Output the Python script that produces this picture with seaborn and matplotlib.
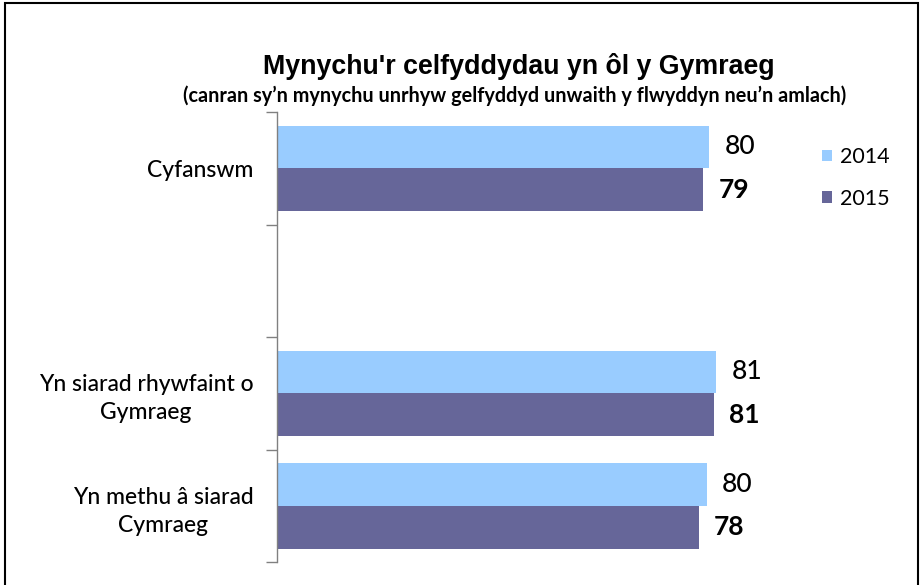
import matplotlib
matplotlib.use("Agg")
import matplotlib.pyplot as plt
from matplotlib.patches import Rectangle
import seaborn as sns
import pandas as pd

categories = ["Cyfanswm", " ", "Yn siarad rhywfaint o\nGymraeg", "Yn methu â siarad\nCymraeg"]
years = ["2014", "2015"]
values_2014 = [80.0, None, 81.3, 79.6]
values_2015 = [78.9, None, 80.9, 78.1]
colors = ["#99CCFF", "#666699"]

rows = []
for cat, v14, v15 in zip(categories, values_2014, values_2015):
    if v14 is not None:
        rows.append({"cat": cat, "year": "2014", "val": v14})
    if v15 is not None:
        rows.append({"cat": cat, "year": "2015", "val": v15})
df = pd.DataFrame(rows)

sns.set_style("white")
plt.rcParams["font.family"] = ["Lato", "DejaVu Sans"]
plt.rcParams["text.color"] = "black"
plt.rcParams["ytick.labelcolor"] = "black"

W, H = 921, 585
fig = plt.figure(figsize=(W / 100, H / 100), dpi=100)
ax = fig.add_axes([277 / W, 1 - 562 / H, (817 - 277) / W, (562 - 112) / H])

sns.barplot(data=df, x="val", y="cat", hue="year", order=categories, hue_order=years,
            palette=colors, saturation=1, orient="h", width=0.76, ax=ax, legend=False,
            edgecolor="none", linewidth=0)

ax.set_xlim(0, 100)
ax.set_ylim(3.5, -0.5)
ax.set_xlabel("")
ax.set_ylabel("")
ax.set_xticks([])

# category boundaries as major ticks, labels on minor ticks
ax.set_yticks([-0.5, 0.5, 1.5, 2.5, 3.5])
ax.set_yticklabels([])
ax.tick_params(axis="y", which="major", left=True, length=8, width=1,
               color="#808080", direction="out")
ax.set_yticks(range(len(categories)), minor=True)
ax.set_yticklabels(categories, minor=True, fontsize=16.5, ha="right",
                   multialignment="center", linespacing=1.4, color="black",
                   fontweight="medium")
ax.tick_params(axis="y", which="minor", left=False, length=0, pad=17)

for s in ["top", "right", "bottom"]:
    ax.spines[s].set_visible(False)
ax.spines["left"].set_color("#808080")
ax.spines["left"].set_linewidth(1)

for i, cont in enumerate(ax.containers):
    ax.bar_label(cont, fmt="%.0f", padding=11, fontsize=19,
                 fontweight="bold" if i == 1 else "medium", color="black")

handles = [Rectangle((0, 0), 1, 1, facecolor=c, edgecolor="none") for c in colors]
fig.legend(handles, years, loc="upper left", bbox_to_anchor=(803 / W, 1 - 128 / H),
           frameon=False, fontsize=15.5, handlelength=0.45, handleheight=0.45,
           handletextpad=0.35, labelspacing=1.0)

fig.text(519 / W, 1 - 66 / H, "Mynychu'r celfyddydau yn ôl y Gymraeg",
         ha="center", va="center", fontsize=19.3, fontweight="bold",
         family=["Liberation Sans", "DejaVu Sans"])
fig.text(515 / W, 1 - 96 / H,
         "(canran sy’n mynychu unrhyw gelfyddyd unwaith y flwyddyn neu’n amlach)",
         ha="center", va="center", fontsize=14.3, fontweight="bold")

fig.patches.append(Rectangle((5 / W, -0.02), (918 - 5) / W, 1.02 - 3 / H,
                             transform=fig.transFigure, fill=False,
                             edgecolor="black", linewidth=1.5))

fig.savefig("out.png", dpi=100)
